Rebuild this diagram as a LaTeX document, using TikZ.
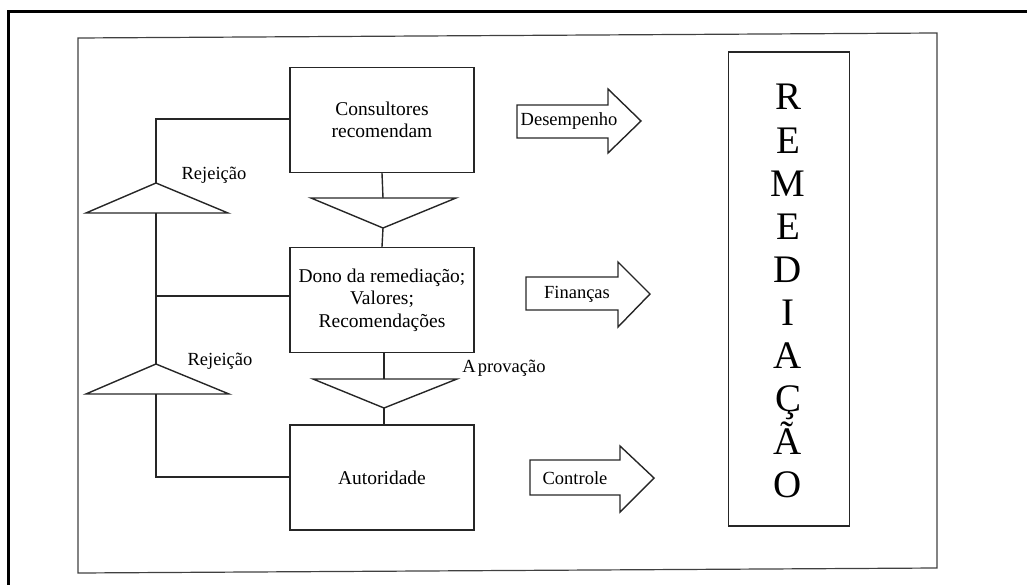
\documentclass[tikz,border=0pt]{standalone}
\usepackage{fontspec}
\setmainfont{Liberation Serif}
\begin{document}
\begin{tikzpicture}[x=1pt,y=-1pt,
  ln/.style={line width=1.4pt, draw=black!85},
  boxst/.style={ln, minimum width=184pt, minimum height=105pt, inner sep=0pt, align=center, font=\fontsize{19.5}{22.5}\selectfont},
  lbl/.style={inner sep=0pt, font=\fontsize{18.5}{22}\selectfont},
  big/.style={inner sep=0pt, anchor=base, font=\fontsize{39}{40}\selectfont}]
\useasboundingbox (0,0) rectangle (1027,585);
% outer frame
\draw[line width=3pt] (8,585) -- (8,12) -- (1027,12);
% inner frame
\draw[line width=1.2pt, draw=black!75] (78,38) -- (937,33) -- (937,568) -- (78,573) -- cycle;

% main boxes
\node[boxst] (cons) at (382,120) {Consultores\\recomendam};
\node[boxst] (dono) at (382,300) {Dono da remediação;\\Valores;\\Recomendações};
\node[boxst] (aut) at (382,477.5) {Autoridade};

% down triangles
\coordinate (t1a) at (311,198); \coordinate (t1b) at (456,198); \coordinate (t1c) at (383,228);
\coordinate (t2a) at (313,379); \coordinate (t2b) at (457,379); \coordinate (t2c) at (384,408);
\draw[ln] (t1a) -- (t1b) -- (t1c) -- cycle;
\draw[ln] (t2a) -- (t2b) -- (t2c) -- cycle;
\coordinate (t1top) at (383,198); \coordinate (t2top) at (384,379);
\draw[ln] (cons.south) -- (t1top);
\draw[ln] (t1c) -- (cons.south |- dono.north);
\draw[ln] (dono.south -| t2top) -- (t2top);
\draw[ln] (t2c) -- (t2c |- aut.north);

% up triangles (rejection)
\coordinate (r1a) at (86,213); \coordinate (r1b) at (228,213); \coordinate (r1c) at (156,183);
\coordinate (r2a) at (86,394); \coordinate (r2b) at (229,394); \coordinate (r2c) at (156,364);
\draw[ln] (r1a) -- (r1b) -- (r1c) -- cycle;
\draw[ln] (r2a) -- (r2b) -- (r2c) -- cycle;
\coordinate (r1base) at (156,213); \coordinate (r2base) at (156,394);

% feedback lines
\coordinate (c1) at (156,119);
\draw[ln] (r1c) -- (c1) -- (c1 -| cons.west);
\coordinate (c2) at (156,296);
\draw[ln] (r1base) -- (r2c);
\draw[ln] (c2) -- (c2 -| dono.west);
\coordinate (c3) at (156,477);
\draw[ln] (r2base) -- (c3) -- (c3 -| aut.west);

% labels
\node[lbl] (rej1) at (214,175) {Rejeição};
\node[lbl] (rej2) at (220,361) {Rejeição};
\node[lbl] (apr) at (504,368) {A\kern2pt provação};

% block arrows
\draw[ln] (517,105) -- (608,105) -- (608,89) -- (641,121) -- (608,153) -- (608,138) -- (517,138) -- cycle;
\node[lbl] (des) at (569,121) {Desempenho};
\draw[ln] (526,277) -- (618,277) -- (618,262) -- (650,294) -- (618,327) -- (618,310) -- (526,310) -- cycle;
\node[lbl] (fin) at (577,294) {Finanças};
\draw[ln] (530,460) -- (620,460) -- (620,446) -- (654,478) -- (620,512) -- (620,495) -- (530,495) -- cycle;
\node[lbl] (ctl) at (575,478) {Controle};

% REMEDIAÇÃO box
\node[ln, minimum width=121pt, minimum height=474pt, inner sep=0pt] (rem) at (789,289) {};
\foreach \l [count=\i from 0] in {R,E,M,E,D,I,A,Ç,Ã,O}
  \node[big] (L\i) at (788,{110+43.1*\i}) {\l};
\end{tikzpicture}
\end{document}
